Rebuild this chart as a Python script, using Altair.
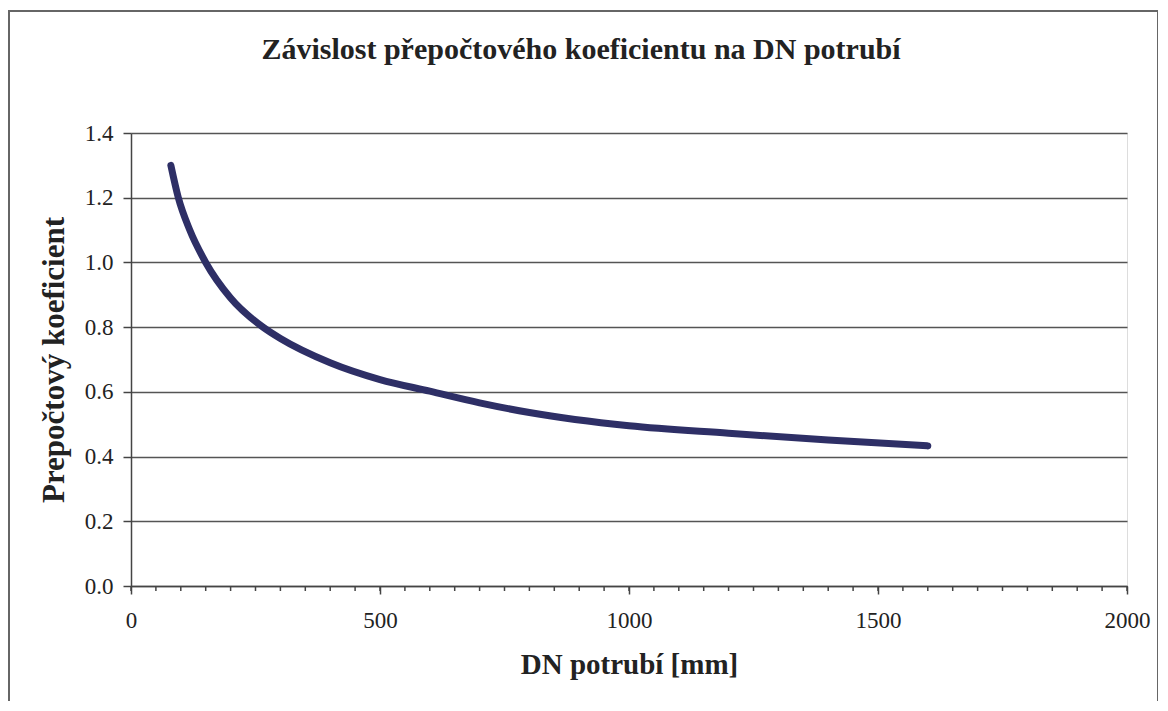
import altair as alt
import pandas as pd

# Data
dn = [80, 95, 118, 150, 200, 265, 300, 400, 500, 600, 700, 800, 1000, 1200, 1400, 1600]
koef = [1.30, 1.20, 1.10, 1.00, 0.89, 0.80, 0.765, 0.69, 0.638, 0.602, 0.566, 0.536, 0.495, 0.472, 0.451, 0.433]

x_major = [0, 500, 1000, 1500, 2000]
x_minor = list(range(0, 2001, 50))
y_ticks = [0.0, 0.2, 0.4, 0.6, 0.8, 1.0, 1.2, 1.4]

chart_title = "Závislost přepočtového koeficientu na DN potrubí"
x_title = "DN potrubí [mm]"
y_title = "Prepočtový koeficient"

FONT = "Liberation Serif"
W, H = 996, 453

df = pd.DataFrame({"dn": dn, "k": koef})
minor_df = pd.DataFrame({"t": x_minor})
one = pd.DataFrame({"a": [0]})

xscale = alt.Scale(domain=[0, 2000], nice=False)
yscale = alt.Scale(domain=[0, 1.4], nice=False)

x_axis = alt.Axis(
    values=x_major, format="d", grid=False, tickSize=8, tickWidth=1.5, tickColor="#444",
    domainColor="#444", domainWidth=1.5, labelFlush=False,
    labelFont=FONT, labelFontSize=23, labelColor="#222", labelPadding=15,
    title=x_title, titleFont=FONT, titleFontSize=29, titleFontWeight="bold",
    titleColor="#222", titlePadding=18,
)
y_axis = alt.Axis(
    values=y_ticks, format=".1f", grid=True, gridColor="#555", gridWidth=1.5,
    tickSize=8, tickWidth=1.5, tickColor="#444", domainColor="#444", domainWidth=1.5,
    labelFlush=False,
    labelFont=FONT, labelFontSize=23, labelColor="#222", labelPadding=10,
    title=y_title, titleFont=FONT, titleFontSize=31, titleFontWeight="bold",
    titleColor="#222", titlePadding=14,
)

frame = alt.Chart(one).mark_rect(fillOpacity=0, stroke="#666", strokeWidth=2).encode(
    x=alt.value(-122), x2=alt.value(1027), y=alt.value(-122), y2=alt.value(640)
)

title_text = alt.Chart(one).mark_text(
    font=FONT, fontSize=30, fontWeight="bold", color="#222", align="center", baseline="middle"
).encode(x=alt.value(450), y=alt.value(-83), text=alt.value(chart_title))

minor = alt.Chart(minor_df).mark_rule(color="#444", strokeWidth=1.5).encode(
    x=alt.X("t:Q", scale=xscale, axis=x_axis),
    y=alt.value(H), y2=alt.value(H + 5),
)

line = alt.Chart(df).mark_line(
    color="#2e2f66", strokeWidth=7, strokeCap="round", interpolate="monotone"
).encode(
    x=alt.X("dn:Q", scale=xscale, axis=x_axis),
    y=alt.Y("k:Q", scale=yscale, axis=y_axis),
)

chart = alt.layer(frame, title_text, minor, line).properties(
    width=W, height=H,
    autosize=alt.AutoSizeParams(type="none"),
    padding={"left": 123, "top": 125, "right": 31, "bottom": 115},
).configure_view(stroke="#555", strokeWidth=1.5).configure(background="white")

chart.save("out.html", embed_options={"renderer": "svg", "actions": False})
